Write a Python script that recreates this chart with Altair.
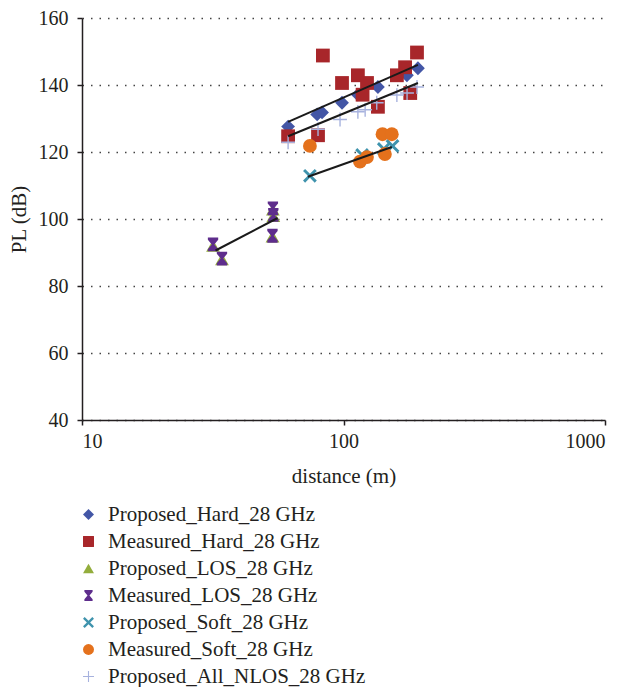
import altair as alt
import pandas as pd

FONT = "Liberation Serif"
TXT = "#231f20"

series_names = [
    "Proposed_Hard_28 GHz",
    "Measured_Hard_28 GHz",
    "Proposed_LOS_28 GHz",
    "Measured_LOS_28 GHz",
    "Proposed_Soft_28 GHz",
    "Measured_Soft_28 GHz",
    "Proposed_All_NLOS_28 GHz",
]
series_colors = ["#4356a6", "#a8262a", "#93ad3c", "#5e2d8c", "#3f93ad", "#e4711c", "#a7b2de"]

# Proposed_Hard
ph_d = [61.4, 79.3, 82.8, 98.7, 113.5, 135.4, 174.8, 192.6]
ph_pl = [127.6, 131.2, 131.8, 134.7, 137.1, 139.4, 142.9, 145.0]
# Measured_Hard
mh_d = [61.4, 79.9, 83.4, 98.7, 113.5, 123.0, 118.3, 135.4, 160.0, 172.0, 180.0, 191.0]
mh_pl = [124.7, 125.0, 148.8, 140.6, 142.9, 140.6, 137.1, 133.5, 142.9, 145.3, 137.6, 149.7]
# Proposed_LOS
pl_d = [31.7, 34.3, 53.7, 53.9, 53.5]
pl_pl = [92.0, 88.0, 102.8, 100.9, 94.8]
# Measured_LOS
ml_d = [31.7, 34.3, 53.7, 53.9, 53.5]
ml_pl = [92.4, 88.2, 103.2, 101.2, 95.0]
# Proposed_Soft
ps_d = [74.4, 117.8, 142.6, 154.0]
ps_pl = [112.9, 119.1, 120.9, 121.8]
# Measured_Soft
ms_d = [74.4, 115.6, 123.0, 144.0, 141.0, 153.0]
ms_pl = [121.8, 117.1, 118.5, 119.4, 125.3, 125.3]
# Proposed_All_NLOS
pn_d = [61.4, 79.9, 97.0, 113.5, 121.0, 134.0, 160.0, 175.0, 191.0]
pn_pl = [122.9, 126.8, 129.7, 132.0, 132.6, 134.7, 137.0, 137.6, 139.4]

# trend lines (end points)
trend_names = ["Hard", "NLOS", "Soft", "LOS"]
trend_d0 = [61.4, 61.4, 73.1, 32.4]
trend_d1 = [192.6, 192.6, 153.0, 56.0]
trend_pl0 = [129.0, 124.7, 112.6, 90.6]
trend_pl1 = [146.0, 140.6, 121.5, 100.3]

x_ticks = [10, 100, 1000]
y_ticks = [40, 60, 80, 100, 120, 140, 160]

all_d = [ph_d, mh_d, pl_d, ml_d, ps_d, ms_d, pn_d]
all_pl = [ph_pl, mh_pl, pl_pl, ml_pl, ps_pl, ms_pl, pn_pl]
rows = []
for name, ds, ps in zip(series_names, all_d, all_pl):
    for d, p in zip(ds, ps):
        rows.append({"series": name, "d": d, "pl": p})
pts = pd.DataFrame(rows)

lrows = []
for n, a, b, c, e in zip(trend_names, trend_d0, trend_d1, trend_pl0, trend_pl1):
    lrows.append({"t": n, "d": a, "pl": c})
    lrows.append({"t": n, "d": b, "pl": e})
lines = pd.DataFrame(lrows)

hourglass = "M-0.75,-1L0.75,-1L0.75,-0.7L0.18,0L0.75,0.7L0.75,1L-0.75,1L-0.75,0.7L-0.18,0L-0.75,-0.7Z"
xshape = "M-1,-0.7L-0.7,-1L0,-0.3L0.7,-1L1,-0.7L0.3,0L1,0.7L0.7,1L0,0.3L-0.7,1L-1,0.7L-0.3,0Z"
plus = "M-1,-0.1L-0.1,-0.1L-0.1,-1L0.1,-1L0.1,-0.1L1,-0.1L1,0.1L0.1,0.1L0.1,1L-0.1,1L-0.1,0.1L-1,0.1Z"
shapes = ["diamond", "square", "triangle-up", hourglass, xshape, "circle", plus]

xscale = alt.Scale(type="log", domain=[10, 1000])
yscale = alt.Scale(domain=[40, 160])

leg = alt.Legend(title=None, orient="none", legendX=-4, legendY=486,
                 direction="vertical", symbolSize=120, labelFontSize=21,
                 labelFont=FONT, labelColor=TXT, rowPadding=5, labelLimit=0,
                 labelOffset=9, symbolStrokeWidth=0)

points = alt.Chart(pts).mark_point(filled=True, size=190, opacity=1).encode(
    x=alt.X("d:Q", scale=xscale,
            axis=alt.Axis(values=x_ticks, format="d", grid=False, title="distance (m)",
                          titlePadding=14, labelPadding=6)),
    y=alt.Y("pl:Q", scale=yscale,
            axis=alt.Axis(values=y_ticks, grid=True, title="PL (dB)", titlePadding=9,
                          labelPadding=9)),
    color=alt.Color("series:N", scale=alt.Scale(domain=series_names, range=series_colors),
                    legend=leg),
    shape=alt.Shape("series:N", scale=alt.Scale(domain=series_names, range=shapes),
                    legend=leg),
)

trend = alt.Chart(lines).mark_line(color="#1a1a1a", strokeWidth=2).encode(
    x=alt.X("d:Q", scale=xscale),
    y=alt.Y("pl:Q", scale=yscale),
    detail="t:N",
)

chart = alt.layer(points, trend).properties(
    width=523, height=402, autosize="none",
    padding={"left": 74, "top": 10, "right": 16, "bottom": 267},
).configure_view(strokeWidth=0).configure_axis(
    labelFont=FONT, titleFont=FONT, labelFontSize=20, titleFontSize=21,
    titleFontWeight="normal", labelColor=TXT, titleColor=TXT,
    domainColor=TXT, domainWidth=1.5, tickColor=TXT, tickWidth=1.5, tickSize=5,
    gridColor="#444444", gridDash=[1.5, 7], gridWidth=1.3,
)

chart.save("out.html", embed_options={"renderer": "svg", "actions": False})
